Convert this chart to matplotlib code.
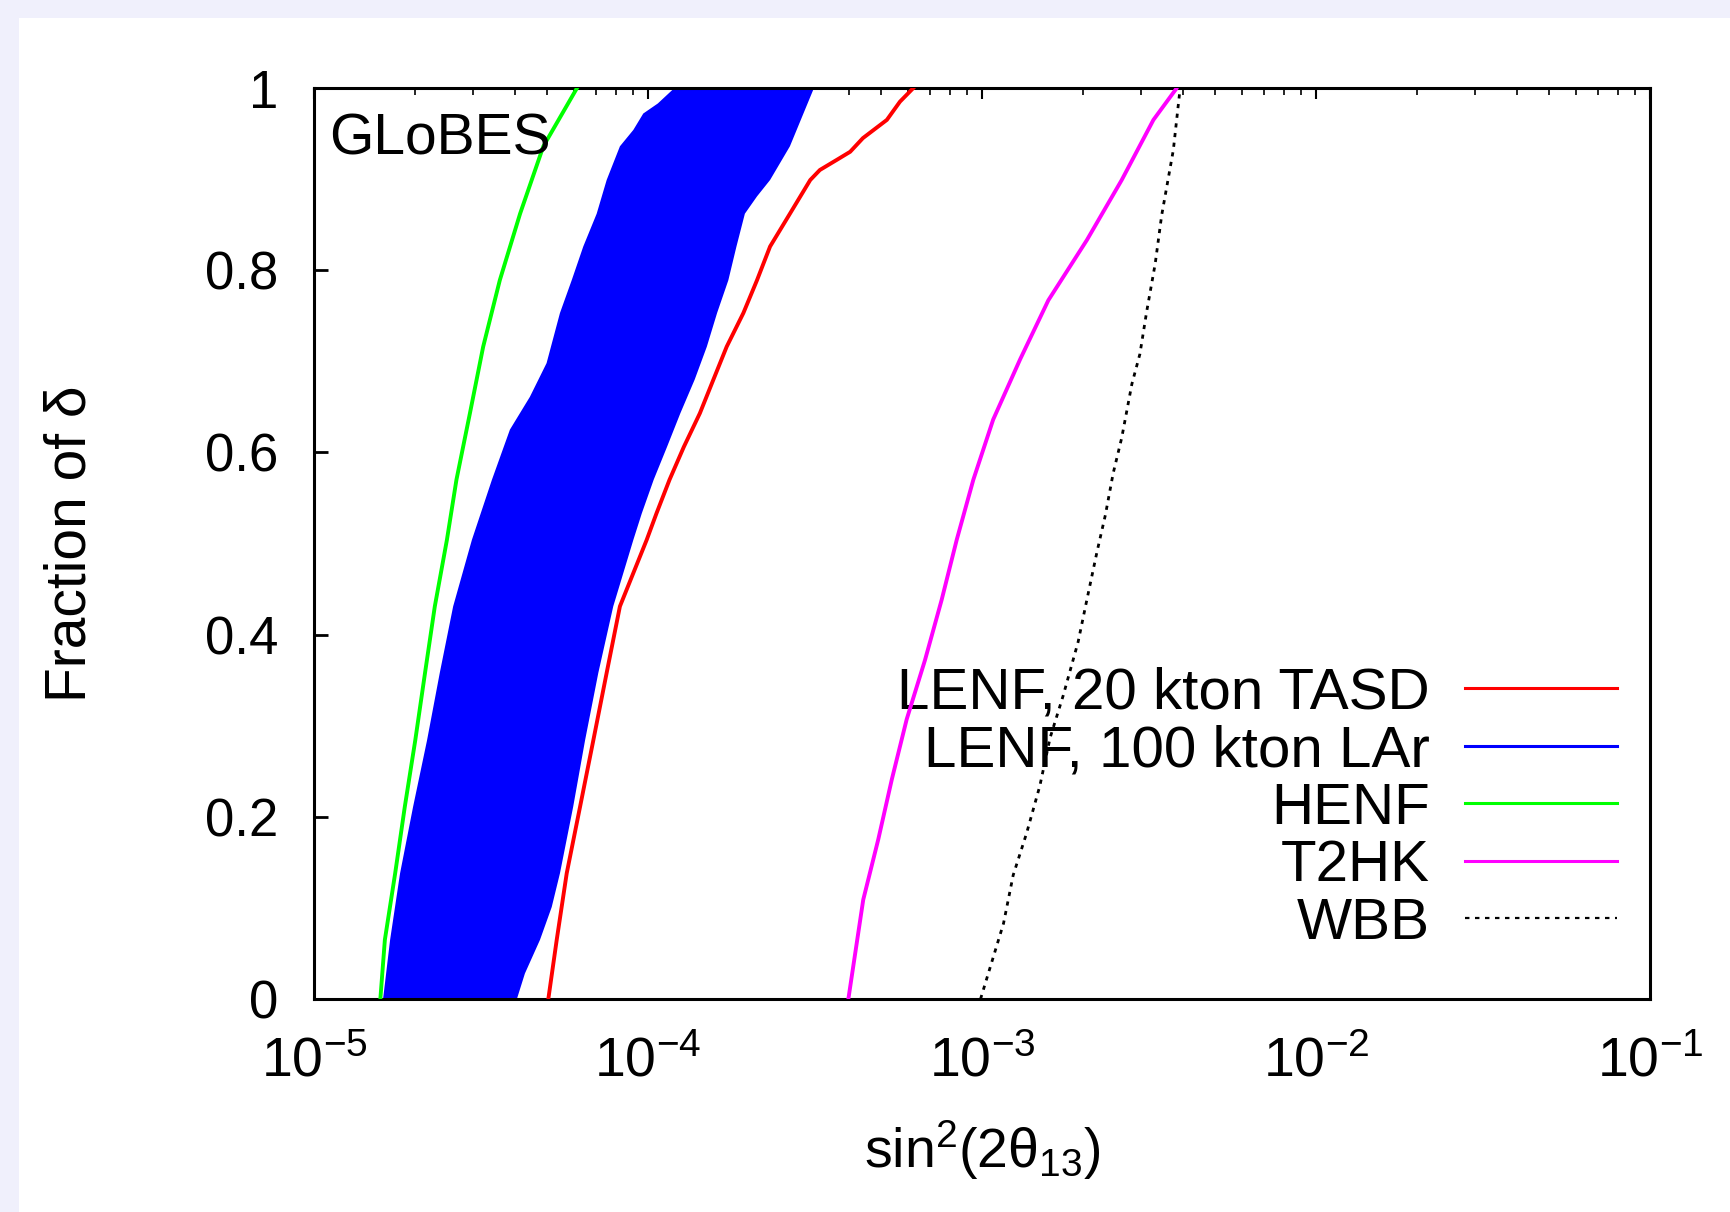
import matplotlib
matplotlib.use("Agg")
import matplotlib.pyplot as plt
from matplotlib.lines import Line2D
from matplotlib.patches import Rectangle
from matplotlib.ticker import FixedLocator, LogLocator, NullFormatter

# fraction of delta vs. sin^2(2 theta13) reach
green_frac = [0, 0.065, 0.138, 0.211, 0.284, 0.358, 0.431, 0.504, 0.570, 0.643, 0.716, 0.789, 0.862, 0.936, 1.0]
henf = [1.58e-5, 1.63e-5, 1.75e-5, 1.87e-5, 2.01e-5, 2.15e-5, 2.30e-5, 2.50e-5, 2.67e-5, 2.93e-5,
        3.21e-5, 3.60e-5, 4.14e-5, 4.86e-5, 6.13e-5]

lar_frac_lo = [0, 0.065, 0.138, 0.211, 0.284, 0.358, 0.431, 0.504, 0.570, 0.625, 0.661, 0.698, 0.753,
               0.789, 0.826, 0.862, 0.899, 0.936, 0.954, 0.972, 0.983, 1.0]
lar_lo = [1.61e-5, 1.69e-5, 1.81e-5, 1.98e-5, 2.18e-5, 2.38e-5, 2.61e-5, 2.97e-5, 3.41e-5, 3.86e-5,
          4.43e-5, 4.97e-5, 5.45e-5, 5.91e-5, 6.40e-5, 7.02e-5, 7.52e-5, 8.24e-5, 9.04e-5, 9.68e-5,
          1.07e-4, 1.20e-4]
lar_frac_hi = [0, 0.028, 0.065, 0.101, 0.138, 0.211, 0.284, 0.358, 0.431, 0.504, 0.533, 0.570, 0.606,
               0.643, 0.680, 0.716, 0.753, 0.789, 0.826, 0.862, 0.881, 0.899, 0.936, 0.972, 1.0]
lar_hi = [4.05e-5, 4.28e-5, 4.75e-5, 5.15e-5, 5.45e-5, 5.97e-5, 6.48e-5, 7.10e-5, 7.87e-5, 9.04e-5,
          9.58e-5, 1.04e-4, 1.14e-4, 1.25e-4, 1.38e-4, 1.50e-4, 1.61e-4, 1.74e-4, 1.84e-4, 1.95e-4,
          2.12e-4, 2.32e-4, 2.66e-4, 2.92e-4, 3.14e-4]

tasd_frac = [0, 0.065, 0.138, 0.211, 0.284, 0.358, 0.431, 0.504, 0.533, 0.570, 0.606, 0.643, 0.680,
             0.716, 0.753, 0.789, 0.826, 0.862, 0.899, 0.910, 0.921, 0.930, 0.945, 0.965, 0.985, 1.0]
tasd = [5.03e-5, 5.33e-5, 5.71e-5, 6.26e-5, 6.86e-5, 7.52e-5, 8.24e-5, 9.91e-5, 1.06e-4, 1.16e-4,
        1.28e-4, 1.43e-4, 1.57e-4, 1.72e-4, 1.93e-4, 2.12e-4, 2.32e-4, 2.66e-4, 3.06e-4, 3.27e-4,
        3.67e-4, 4.03e-4, 4.40e-4, 5.19e-4, 5.68e-4, 6.23e-4]

t2hk_frac = [0, 0.109, 0.175, 0.241, 0.307, 0.372, 0.438, 0.504, 0.570, 0.636, 0.702, 0.767, 0.833,
             0.899, 0.965, 1.0]
t2hk = [3.98e-4, 4.41e-4, 4.89e-4, 5.37e-4, 5.95e-4, 6.75e-4, 7.57e-4, 8.40e-4, 9.42e-4, 1.08e-3,
        1.30e-3, 1.58e-3, 2.06e-3, 2.62e-3, 3.26e-3, 3.83e-3]

wbb_frac = [0, 0.083, 0.136, 0.182, 0.234, 0.287, 0.333, 0.392, 0.438, 0.491, 0.531, 0.577, 0.616,
            0.675, 0.708, 0.754, 0.807, 0.860, 0.932, 1.0]
wbb = [9.9e-4, 1.16e-3, 1.24e-3, 1.36e-3, 1.49e-3, 1.60e-3, 1.75e-3, 1.94e-3, 2.06e-3, 2.21e-3,
       2.34e-3, 2.47e-3, 2.62e-3, 2.81e-3, 2.97e-3, 3.11e-3, 3.30e-3, 3.45e-3, 3.74e-3, 3.92e-3]

legend_labels = ["LENF, 20 kton TASD", "LENF, 100 kton LAr", "HENF", "T2HK", "WBB"]
y_ticks = [0, 0.2, 0.4, 0.6, 0.8, 1]
y_ticklabels = ["0", "0.2", "0.4", "0.6", "0.8", "1"]

plt.rcParams["font.family"] = ["Liberation Sans", "DejaVu Sans"]
plt.rcParams["mathtext.fontset"] = "custom"
plt.rcParams["mathtext.rm"] = "Liberation Sans"
plt.rcParams["mathtext.it"] = "Liberation Sans"
plt.rcParams["axes.unicode_minus"] = False

fig = plt.figure(figsize=(17.3, 12.12), dpi=100, facecolor="#f0f0fc")
fig.add_artist(Rectangle((19 / 1730, 0), 1, (1212 - 18) / 1212, transform=fig.transFigure,
                         facecolor="white", edgecolor="none", zorder=0))
ax = fig.add_axes([314 / 1730, 213 / 1212, 1336 / 1730, 911 / 1212])

# LAr band
ax.fill(lar_lo + lar_hi[::-1], lar_frac_lo + lar_frac_hi[::-1], color="#0000ff", lw=0, zorder=2)

lw = 2.8
ax.plot(henf, green_frac, color="#00ff00", lw=lw, zorder=3)
ax.plot(tasd, tasd_frac, color="#ff0000", lw=lw, zorder=3)
ax.plot(t2hk, t2hk_frac, color="#ff00ff", lw=lw, zorder=3)
ax.plot(wbb, wbb_frac, color="black", lw=2, ls=(0, (1.5, 2)), zorder=3)

ax.set_xscale("log")
ax.set_xlim(1e-5, 1e-1)
ax.set_ylim(0, 1)
ax.yaxis.set_major_locator(FixedLocator(y_ticks))
ax.set_yticklabels(y_ticklabels)
ax.xaxis.set_major_locator(LogLocator(base=10, numticks=10))
ax.xaxis.set_minor_locator(LogLocator(base=10, subs=range(2, 10), numticks=20))
ax.xaxis.set_minor_formatter(NullFormatter())

ax.tick_params(axis="y", which="major", direction="in", length=10, width=2, pad=26,
               labelsize=38, left=True, right=False)
ax.tick_params(axis="x", which="major", direction="in", length=8, width=1.5, pad=27,
               labelsize=40, top=True, bottom=False)
ax.tick_params(axis="x", which="minor", direction="in", length=5, width=1.2, top=True, bottom=False)
for sp in ax.spines.values():
    sp.set_linewidth(2.2)

ax.set_xlabel(r"sin$^2$(2$\theta_{13}$)", fontsize=40)
ax.xaxis.set_label_coords(0.5, -0.131)
ax.set_ylabel("Fraction of δ", fontsize=41)
ax.yaxis.set_label_coords(-0.162, 0.5)

ax.text(0.011, 0.927, "GLoBES", transform=ax.transAxes, fontsize=41, ha="left", va="baseline")

handles = [Line2D([], [], color="#ff0000", lw=2.2),
           Line2D([], [], color="#0000ff", lw=2.2),
           Line2D([], [], color="#00ff00", lw=2.2),
           Line2D([], [], color="#ff00ff", lw=2.2),
           Line2D([], [], color="black", lw=1.6, ls=(0, (2, 2.5)))]
leg = ax.legend(handles, legend_labels, loc="center right", bbox_to_anchor=(0.975, 0.209),
                frameon=False, markerfirst=False, fontsize=42, handlelength=2.6,
                handletextpad=0.6, labelspacing=0.06, borderpad=0, borderaxespad=0)
leg.set_zorder(1)

fig.savefig("out.png", dpi=100, facecolor=fig.get_facecolor())
